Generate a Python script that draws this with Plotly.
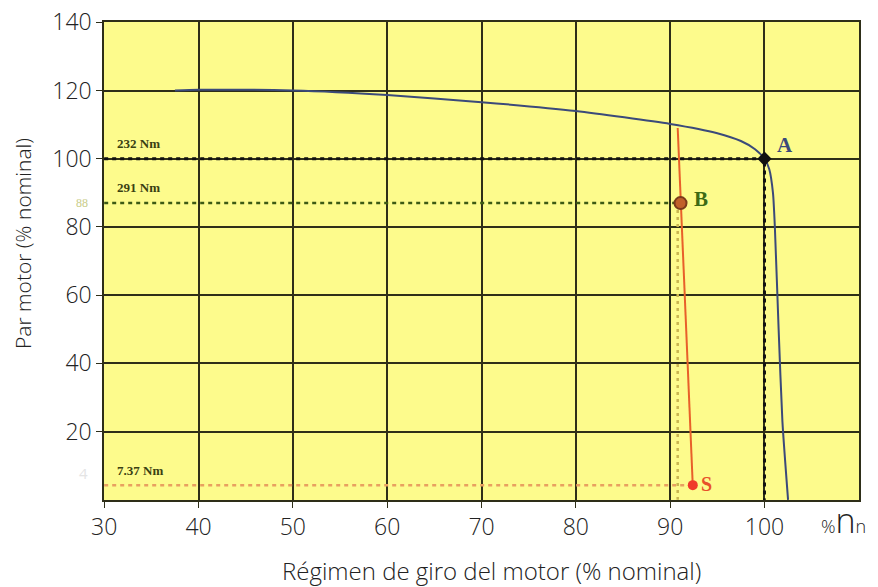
import plotly.graph_objects as go

# ---- data ----
x_ticks = [30, 40, 50, 60, 70, 80, 90, 100]
y_ticks = [20, 40, 60, 80, 100, 120, 140]

motor_x = [37.5, 40, 50, 60, 70, 80, 90, 95, 97.5, 99, 100, 100.5, 100.9, 101.1, 101.5, 101.9, 102.5]
motor_y = [120, 120.2, 120, 118.7, 116.6, 114, 110.2, 107.5, 105.2, 102.8, 100, 97, 90, 80, 50, 23, 0]

load_x = [90.8, 92.4]
load_y = [109, 4]

point_A = (100, 100)
point_B = (91.1, 87)
point_S = (92.4, 4.3)

label_A = "A"
label_B = "B"
label_S = "S"
torque_labels = ["232 Nm", "291 Nm", "7.37 Nm"]

GRID = "#2e2e18"
YELLOW = "#fdfb8c"
FONT = "Open Sans, Lato, sans-serif"

W, H = 878, 587
L, T, R, B = 104, 22, 19, 87
PW = W - L - R
PH = H - T - B


def px_x(px):
    return (px - L) / PW


def px_y(py):
    return (H - B - py) / PH


fig = go.Figure()

# reference dotted lines
fig.add_trace(go.Scatter(x=[30, point_A[0], point_A[0]], y=[point_A[1], point_A[1], 0],
                         mode="lines", line=dict(color="#111111", width=3, dash="4px,4px"),
                         hoverinfo="skip", showlegend=False))
fig.add_trace(go.Scatter(x=[30, point_B[0]], y=[point_B[1], point_B[1]],
                         mode="lines", line=dict(color="#3d5a14", width=2.5, dash="4px,4px"),
                         hoverinfo="skip", showlegend=False))
fig.add_trace(go.Scatter(x=[point_B[0] - 0.3, point_B[0] - 0.3], y=[point_B[1], 0],
                         mode="lines", line=dict(color="#c9b650", width=2.5, dash="3px,4px"),
                         hoverinfo="skip", showlegend=False))
fig.add_trace(go.Scatter(x=[30, point_S[0]], y=[point_S[1], point_S[1]],
                         mode="lines", line=dict(color="#e8a060", width=2.5, dash="4px,4px"),
                         hoverinfo="skip", showlegend=False))

# motor curve
fig.add_trace(go.Scatter(x=motor_x, y=motor_y, mode="lines",
                         line=dict(color="#3b4a7a", width=2, shape="spline", smoothing=0.6),
                         hoverinfo="skip", showlegend=False))
# load line
fig.add_trace(go.Scatter(x=load_x, y=load_y, mode="lines",
                         line=dict(color="#e8602a", width=2),
                         hoverinfo="skip", showlegend=False))

# points
fig.add_trace(go.Scatter(x=[point_A[0]], y=[point_A[1]], mode="markers",
                         marker=dict(symbol="diamond", size=11, color="#111111"),
                         hoverinfo="skip", showlegend=False))
fig.add_trace(go.Scatter(x=[point_B[0]], y=[point_B[1]], mode="markers",
                         marker=dict(symbol="circle", size=12, color="#c0602a",
                                     line=dict(color="#7a3a1a", width=2)),
                         hoverinfo="skip", showlegend=False))
fig.add_trace(go.Scatter(x=[point_S[0]], y=[point_S[1]], mode="markers",
                         marker=dict(symbol="circle", size=10, color="#f03a2a"),
                         hoverinfo="skip", showlegend=False))

ann = []
serif = "Liberation Serif, DejaVu Serif, serif"
ann.append(dict(x=point_A[0] + 2.2, y=point_A[1] + 4, text="<b>" + label_A + "</b>", showarrow=False,
                font=dict(family=serif, size=21, color="#3b4a7a"), xref="x", yref="y"))
ann.append(dict(x=point_B[0] + 2.2, y=point_B[1] + 1.2, text="<b>" + label_B + "</b>", showarrow=False,
                font=dict(family=serif, size=21, color="#3d6a14"), xref="x", yref="y"))
ann.append(dict(x=point_S[0] + 1.5, y=point_S[1] + 0.4, text="<b>" + label_S + "</b>", showarrow=False,
                font=dict(family=serif, size=20, color="#e8502a"), xref="x", yref="y"))
for txt, yv in zip(torque_labels, [point_A[1] + 4.6, point_B[1] + 4.5, point_S[1] + 4.4]):
    ann.append(dict(x=31.1, y=yv, text="<b>" + txt + "</b>", showarrow=False, xanchor="left",
                    font=dict(family=serif, size=13, color="#3a4012"), xref="x", yref="y"))
# extra faint y labels
ann.append(dict(x=px_x(90), y=point_B[1] / 140, text="88", showarrow=False, xanchor="right",
                font=dict(family=serif, size=12, color="#c8cc88"), xref="paper", yref="paper"))
ann.append(dict(x=px_x(90), y=point_S[1] / 140, text="4", showarrow=False, xanchor="right",
                font=dict(family=FONT, size=15, color="#e4e4e4"), xref="paper", yref="paper"))
# unit label on x axis
ann.append(dict(x=px_x(843), y=px_y(520), text="%<span style='font-size:34px'>n</span>n",
                showarrow=False, xanchor="center", yanchor="middle",
                font=dict(family=FONT, size=18, color="#222222", weight=300), xref="paper", yref="paper"))
# axis titles
ann.append(dict(x=px_x(491), y=px_y(570), text="Régimen de giro del motor (% nominal)",
                showarrow=False, xanchor="center", yanchor="middle",
                font=dict(family=FONT, size=24, color="#222222", weight=300), xref="paper", yref="paper"))
ann.append(dict(x=px_x(23), y=px_y(244), text="Par motor (% nominal)", textangle=-90,
                showarrow=False, xanchor="center", yanchor="middle",
                font=dict(family=FONT, size=21, color="#222222", weight=300), xref="paper", yref="paper"))

fig.update_layout(
    width=W, height=H,
    margin=dict(l=L, r=R, t=T, b=B, autoexpand=False),
    paper_bgcolor="white",
    plot_bgcolor=YELLOW,
    annotations=ann,
    font=dict(family=FONT, color="#222222"),
)
tickfont = dict(family=FONT, size=23, color="#222222", weight=300)
fig.update_xaxes(range=[29.98, 110.02], tickvals=x_ticks, ticktext=[str(v) for v in x_ticks],
                 showgrid=True, gridcolor=GRID, gridwidth=1.5,
                 showline=True, linecolor=GRID, linewidth=1.5, mirror=True,
                 ticks="outside", ticklen=6, tickcolor=GRID, tickfont=tickfont,
                 zeroline=False, fixedrange=True)
fig.update_yaxes(range=[-0.05, 140.1], tickvals=y_ticks, ticktext=[str(v) for v in y_ticks],
                 showgrid=True, gridcolor=GRID, gridwidth=1.5,
                 showline=True, linecolor=GRID, linewidth=1.5, mirror=True,
                 ticks="outside", ticklen=6, tickcolor=GRID, tickfont=tickfont,
                 zeroline=False, fixedrange=True)

fig.write_html("out.html", config={"displayModeBar": False},
               post_script="document.body.style.margin='0';")
